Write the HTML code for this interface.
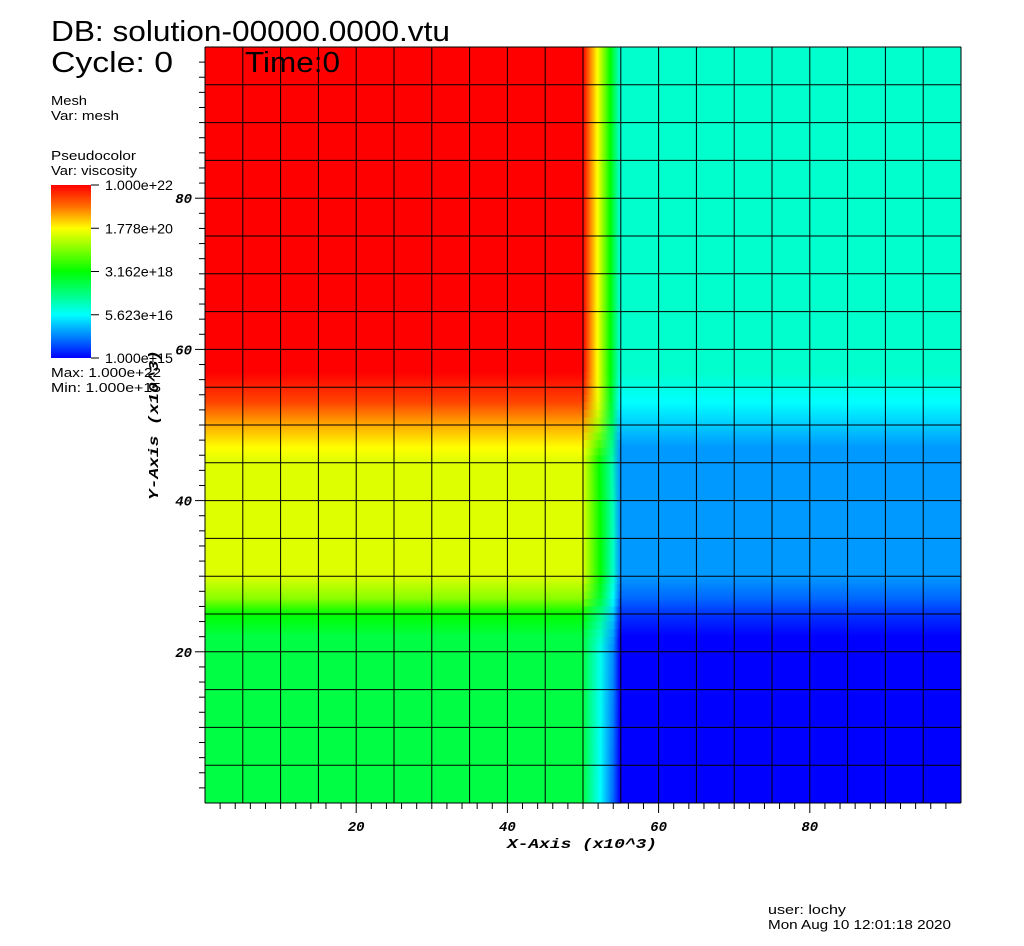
<!DOCTYPE html>
<html><head><meta charset="utf-8"><style>
body{margin:0;background:#fff;width:1024px;height:946px;overflow:hidden;font-family:"Liberation Sans",sans-serif}
svg{position:absolute;left:0;top:0}
</style></head><body>
<svg id="s" width="1024" height="946">
<defs>
<linearGradient id="lg" x1="0" y1="0" x2="0" y2="1">
<stop offset="0" stop-color="#ff0000"/><stop offset="0.12" stop-color="#ff6a00"/><stop offset="0.25" stop-color="#ffff00"/><stop offset="0.5" stop-color="#00ff00"/><stop offset="0.67" stop-color="#00ffaa"/><stop offset="0.75" stop-color="#00ffff"/><stop offset="0.87" stop-color="#0088ff"/><stop offset="1" stop-color="#0000ff"/>
</linearGradient>
</defs>
<g id="field"></g>
<g id="grid"></g>
<g id="axes"></g>
<text x="51" y="41" font-size="29" textLength="399" lengthAdjust="spacingAndGlyphs">DB: solution-00000.0000.vtu</text>
<text x="51" y="72" font-size="29" textLength="122" lengthAdjust="spacingAndGlyphs">Cycle: 0</text>
<text x="245" y="72" font-size="29" textLength="95" lengthAdjust="spacingAndGlyphs">Time:0</text>
<text x="51" y="105" font-size="13" textLength="36" lengthAdjust="spacingAndGlyphs">Mesh</text>
<text x="51" y="120" font-size="13" textLength="68" lengthAdjust="spacingAndGlyphs">Var: mesh</text>
<text x="51" y="160" font-size="13" textLength="85" lengthAdjust="spacingAndGlyphs">Pseudocolor</text>
<text x="51" y="175" font-size="13" textLength="86" lengthAdjust="spacingAndGlyphs">Var: viscosity</text>
<rect x="51" y="185" width="40" height="173" fill="url(#lg)"/>
<g id="cb"></g>
<text x="51" y="377" font-size="13" textLength="110" lengthAdjust="spacingAndGlyphs">Max:  1.000e+22</text>
<text x="51" y="392" font-size="13" textLength="110" lengthAdjust="spacingAndGlyphs">Min:  1.000e+15</text>
<text x="507" y="848" font-size="14" font-weight="bold" font-style="italic" font-family="Liberation Mono,monospace" textLength="150" lengthAdjust="spacingAndGlyphs">X-Axis (x10^3)</text>
<text transform="translate(158,500) rotate(-90)" font-size="14" font-weight="bold" font-style="italic" font-family="Liberation Mono,monospace" textLength="150" lengthAdjust="spacingAndGlyphs">Y-Axis (x10^3)</text>
<text x="768" y="914" font-size="13" textLength="78" lengthAdjust="spacingAndGlyphs">user: lochy</text>
<text x="768" y="929" font-size="13" textLength="183" lengthAdjust="spacingAndGlyphs">Mon Aug 10 12:01:18 2020</text>
</svg>
<script>
// y (x10^3 units), left-region color, band colors, right-region color
const profileY = [100, 57, 53, 50, 47, 45, 30, 27, 25, 22, 20, 0];
const leftColors = ['#ff0000','#ff0000','#ff4400','#ffaa00','#ffff00','#ddff00','#ddff00','#88ff00','#00ff00','#00ff44','#00ff44','#00ff44'];
const mid1Colors = ['#ffff00','#ffff00','#eeff00','#aaff00','#44ff00','#00ff00','#00ff00','#00ff33','#00ff88','#00ffcc','#00ffee','#00ffff'];
const mid2Colors = ['#00ff00','#00ff00','#00ff22','#00ff55','#00ff88','#00ffaa','#00ffcc','#00ffff','#00ccff','#0099ff','#0088ff','#0066ff'];
const rightColors = ['#00ffcc','#00ffcc','#00ffff','#00ccff','#0099ff','#0099ff','#0099ff','#0066ff','#0033ff','#0000ff','#0000ff','#0000ff'];
const cbTicks = ['1.000e+22','1.778e+20','3.162e+18','5.623e+16','1.000e+15'];
const xTicks = [20,40,60,80];
const yTicks = [20,40,60,80];
const X0=205,X1=961,Y0=803,Y1=47;
const sx=v=>X0+(X1-X0)*v/100, sy=v=>Y0-(Y0-Y1)*v/100;
const NS='http://www.w3.org/2000/svg';
const mk=(t,a,p)=>{const e=document.createElementNS(NS,t);for(const k in a)e.setAttribute(k,a[k]);p.appendChild(e);return e;};
const defs=document.querySelector('defs'), field=document.getElementById('field');
function vgrad(id,cols){const g=mk('linearGradient',{id:id,x1:0,y1:0,x2:0,y2:1},defs);
profileY.forEach((y,i)=>mk('stop',{offset:(100-y)/100,'stop-color':cols[i]},g));}
vgrad('gl',leftColors);vgrad('gr',rightColors);
let r=mk('rect',{x:sx(0),y:sy(100),width:sx(50)-sx(0),height:sy(0)-sy(100),fill:'url(#gl)'},field);


r=mk('rect',{x:sx(55),y:sy(100),width:sx(100)-sx(55),height:sy(0)-sy(100),fill:'url(#gr)'},field);


function lerpC(a,b,t){const pa=parseInt(a.slice(1),16),pb=parseInt(b.slice(1),16);let o=0;
for(const s of [16,8,0]){const ca=(pa>>s)&255,cb=(pb>>s)&255;o|=Math.round(ca+(cb-ca)*t)<<s;}return '#'+o.toString(16).padStart(6,'0');}
function colAt(cols,y){for(let i=0;i<profileY.length-1;i++){if(y<=profileY[i]&&y>=profileY[i+1]){const t=(profileY[i]-y)/(profileY[i]-profileY[i+1]||1);return lerpC(cols[i],cols[i+1],t);}}return cols[cols.length-1];}
const N=100;
for(let k=0;k<N;k++){const yt=100-k*100/N,yb=yt-100/N,ym=(yt+yb)/2;
const id='b'+k;const g=mk('linearGradient',{id:id,x1:0,y1:0,x2:1,y2:0},defs);
const shift=ym<57?Math.min(0.08,(57-ym)/250):0;
mk('stop',{offset:0,'stop-color':colAt(leftColors,ym)},g);
mk('stop',{offset:0.38+shift,'stop-color':colAt(mid1Colors,ym)},g);
mk('stop',{offset:0.72+shift,'stop-color':colAt(mid2Colors,ym)},g);
mk('stop',{offset:0.97,'stop-color':colAt(rightColors,ym)},g);
const s=mk('rect',{x:sx(50),y:sy(yt),width:sx(55)-sx(50),height:sy(yb)-sy(yt)+0.6,fill:'url(#'+id+')'},field);

}
const grid=document.getElementById('grid');
for(let i=0;i<=20;i++){const v=i*5;
let l=mk('line',{x1:sx(v),x2:sx(v),y1:Y1,y2:Y0,stroke:'#000','stroke-width':1},grid);


l=mk('line',{x1:X0,x2:X1,y1:sy(v),y2:sy(v),stroke:'#000','stroke-width':1},grid);

}
const ax=document.getElementById('axes');
for(let v=2;v<100;v+=2){const maj=v%20==0;
let t=mk('line',{x1:sx(v),x2:sx(v),y1:Y0,y2:Y0+(maj?10:6),stroke:'#000'},ax);


t=mk('line',{x1:X0,x2:X0-(maj?10:6),y1:sy(v),y2:sy(v),stroke:'#000'},ax);

}
xTicks.forEach(v=>{const t=mk('text',{x:sx(v),y:831,'text-anchor':'middle','font-size':14,'font-weight':'bold','font-style':'italic','font-family':'Liberation Mono,monospace'},ax);t.textContent=v;

});
yTicks.forEach(v=>{const t=mk('text',{x:192,y:sy(v)+5,'text-anchor':'end','font-size':14,'font-weight':'bold','font-style':'italic','font-family':'Liberation Mono,monospace'},ax);t.textContent=v;

});
const cb=document.getElementById('cb');
cbTicks.forEach((s,i)=>{const y=185+i*173/4;
const l=mk('line',{x1:91,x2:99,y1:y,y2:y,stroke:'#000'},cb);


const t=mk('text',{x:105,y:y+5,'font-size':14,textLength:68,lengthAdjust:'spacingAndGlyphs'},cb);t.textContent=s;

});
</script>
</body></html>
